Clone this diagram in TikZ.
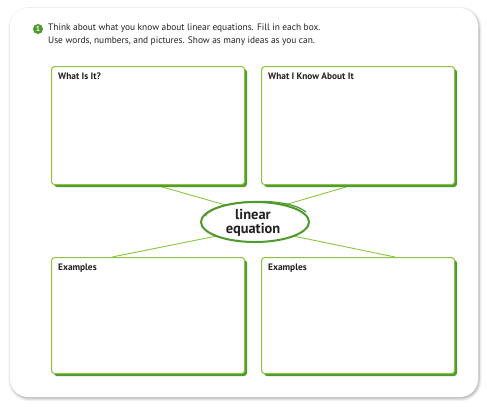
\documentclass[tikz,border=0pt]{standalone}
\usepackage{fontspec}
\setmainfont{PT Sans}
\usetikzlibrary{shadows.blur,shapes.geometric}
\definecolor{lgreen}{HTML}{8CC63F}
\definecolor{dgreen}{HTML}{4E9A2E}
\definecolor{txt}{HTML}{231F20}
\tikzset{
  box/.style={draw=lgreen, line width=1.1bp, rounded corners=3bp, fill=white},
  boxshadow/.style={fill=dgreen, rounded corners=3bp},
  boxlabel/.style={anchor=north west, inner sep=0pt, font=\fontsize{9.4}{10}\selectfont\bfseries, text=txt},
  link/.style={draw=lgreen, line width=0.9bp},
}
\begin{document}
\begin{tikzpicture}[x=1bp,y=-1bp]
\useasboundingbox (0,0) rectangle (487,406);
% page
\fill[white, rounded corners=18bp, blur shadow={shadow xshift=1bp, shadow yshift=-1.5bp, shadow blur steps=8, shadow blur radius=3bp, shadow opacity=35}] (10,8) rectangle (478,397);
% instruction
\node[circle, fill=dgreen, inner sep=0pt, minimum size=10bp, text=white, font=\fontsize{7.5}{7.5}\selectfont\bfseries] (num) at (38,29) {1};
\node[anchor=north west, inner sep=0pt, align=left, text=txt, font=\fontsize{9.4}{12.8}\selectfont] (instr) at (48,23.5) {Think about what you know about linear equations. Fill in each box.\\Use words, numbers, and pictures. Show as many ideas as you can.};
% connectors (drawn beneath)
\coordinate (c) at (255,222);
\node[ellipse, minimum width=108bp, minimum height=40bp, inner sep=0pt] (ell) at (c) {};
\draw[link] (152,184) -- (ell.150);
\draw[link] (356,184) -- (ell.30);
\draw[link] (112,257) -- (ell.200);
\draw[link] (395,257) -- (ell.340);
% boxes
\fill[boxshadow] (54,69) rectangle (247,187);
\node[box, anchor=north west, minimum width=193bp, minimum height=118bp, inner sep=0pt] (tl) at (51,66) {};
\node[boxlabel] (tll) at (58,72.5) {What Is It?};
\fill[boxshadow] (264,69) rectangle (457,187);
\node[box, anchor=north west, minimum width=193bp, minimum height=118bp, inner sep=0pt] (tr) at (261,66) {};
\node[boxlabel] (trl) at (268,72.5) {What I Know About It};
\fill[boxshadow] (54,260) rectangle (247,376);
\node[box, anchor=north west, minimum width=193bp, minimum height=116bp, inner sep=0pt] (bl) at (51,257) {};
\node[boxlabel] (bll) at (58,263.5) {Examples};
\fill[boxshadow] (264,260) rectangle (457,376);
\node[box, anchor=north west, minimum width=193bp, minimum height=116bp, inner sep=0pt] (br) at (261,257) {};
\node[boxlabel] (brl) at (268,263.5) {Examples};
% central ellipse
\fill[white] (c) ellipse (54 and 20);
\draw[dgreen, line width=2bp] (c) ellipse (54 and 20);
\draw[dgreen, line width=1.2bp] (205,216) .. controls (215,200) and (285,195) .. (306,212);
\node[align=center, text=txt, font=\fontsize{14.5}{14}\selectfont\bfseries, inner sep=0pt] (lbl) at (253,223) {linear\\equation};
\end{tikzpicture}
\end{document}
